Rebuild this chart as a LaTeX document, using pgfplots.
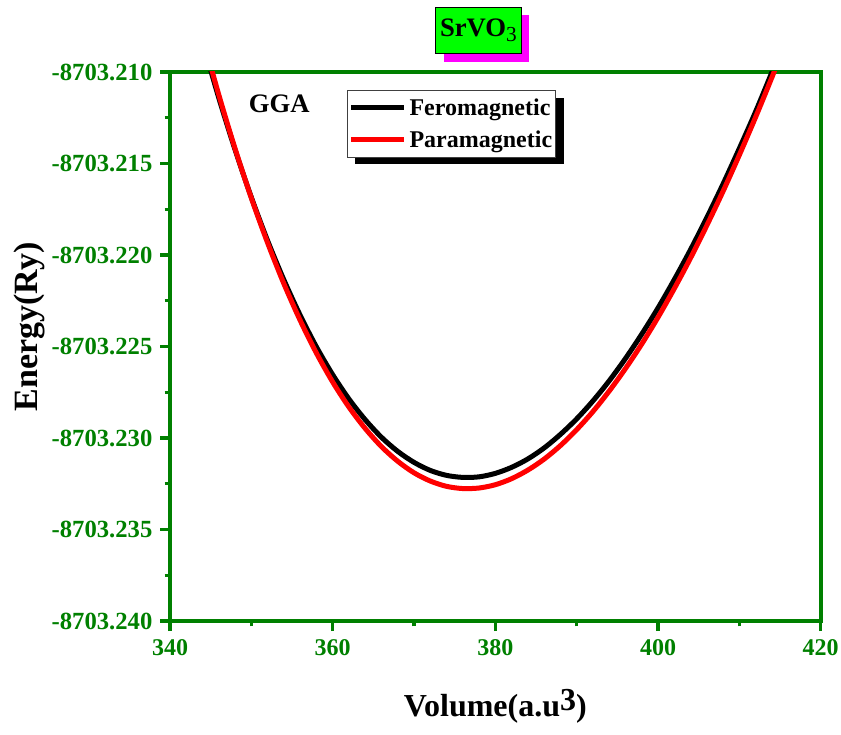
\documentclass[border=0pt]{standalone}
\usepackage{fontspec}
\setmainfont{Liberation Serif}
\usepackage{pgfplots}
\usepackage{pgfplotstable}
\pgfplotsset{compat=1.18}
\usetikzlibrary{shadows}
\definecolor{axgreen}{RGB}{0,128,0}
\definecolor{titlegreen}{RGB}{0,255,0}
\definecolor{shadowmag}{RGB}{255,0,255}
% Energies stored as E + 8703 (Ry), i.e. -0.20835 means -8703.20835 Ry
\pgfplotstableread{
V E
344 -0.20835
346 -0.21142
348 -0.21425
350 -0.21685
352 -0.21922
354 -0.22136
356 -0.22329
358 -0.22502
360 -0.22654
362 -0.22787
364 -0.22900
366 -0.22996
368 -0.23073
370 -0.23133
372 -0.23177
374 -0.23204
376 -0.23215
378 -0.23212
380 -0.23193
382 -0.23160
384 -0.23114
386 -0.23054
388 -0.22980
390 -0.22895
392 -0.22797
394 -0.22687
396 -0.22565
398 -0.22432
400 -0.22289
402 -0.22134
404 -0.21970
406 -0.21795
408 -0.21611
410 -0.21417
412 -0.21216
414 -0.21001
416 -0.20780
}\ferro
\pgfplotstableread{
V E
344 -0.20806
346 -0.21125
348 -0.21419
350 -0.21689
352 -0.21934
354 -0.22157
356 -0.22357
358 -0.22536
360 -0.22694
362 -0.22831
364 -0.22948
366 -0.23047
368 -0.23127
370 -0.23190
372 -0.23235
374 -0.23264
376 -0.23276
378 -0.23273
380 -0.23255
382 -0.23222
384 -0.23175
386 -0.23115
388 -0.23041
390 -0.22954
392 -0.22855
394 -0.22743
396 -0.22620
398 -0.22486
400 -0.22340
402 -0.22183
404 -0.22016
406 -0.21838
408 -0.21651
410 -0.21453
412 -0.21246
414 -0.21029
416 -0.20803
}\para
\begin{document}
\begin{tikzpicture}
\begin{axis}[name=ax,
  scale only axis, width=488pt, height=411.75pt,
  xmin=340, xmax=420, ymin=-0.240, ymax=-0.210,
  xtick={340,360,380,400,420},
  ytick={-0.240,-0.235,-0.230,-0.225,-0.220,-0.215,-0.210},
  yticklabels={-8703.240,-8703.235,-8703.230,-8703.225,-8703.220,-8703.215,-8703.210},
  minor tick num=1,
  tick pos=left, tick align=outside,
  major tick length=7.5pt, minor tick length=4pt,
  axis line style={line width=3pt, draw=axgreen},
  tick style={line width=2.5pt, draw=axgreen},
  xticklabel style={font=\fontsize{18}{21}\selectfont\bfseries, text=axgreen, yshift=-3pt, /pgf/number format/assume math mode=true},
  yticklabel style={font=\fontsize{18.5}{22}\selectfont\bfseries, text=axgreen, xshift=-2.2pt},
  xlabel={Volume(a.u\raisebox{0.45ex}{3})},
  ylabel={Energy(Ry)},
  xlabel style={font=\fontsize{24}{28}\selectfont\bfseries, at={(rel axis cs:0.5,-0.155)}, anchor=center},
  ylabel style={font=\fontsize{25.5}{30}\selectfont\bfseries, at={(rel axis cs:-0.2167,0.536)}, anchor=center},
  clip mode=individual,
  legend style={at={(0.2725,0.967)}, anchor=north west, draw=black!75, line width=0.8pt, fill=white,
    font=\fontsize{18}{21}\selectfont\bfseries,
    inner xsep=0.5pt, inner ysep=4pt, row sep=6pt},
  legend cell align=left,
  legend image code/.code={\draw[#1, line width=3.75pt] (0pt,0pt) -- (40pt,0pt);},
]
\fill[black] (rel axis cs:0.2848,0.9526) rectangle (rel axis cs:0.606,0.8319);
\addplot[black, line width=3.75pt, smooth] table[x=V, y=E] {\ferro};
\addlegendentry{Feromagnetic}
\addplot[red, line width=3.75pt, smooth] table[x=V, y=E] {\para};
\addlegendentry{Paramagnetic}
\node[anchor=base west, font=\fontsize{20}{24}\selectfont\bfseries] at (rel axis cs:0.114,0.9266) {GGA};
\node[fill=titlegreen, draw=black, line width=0.8pt,
  general shadow={fill=shadowmag, shadow xshift=6pt, shadow yshift=-6pt},
  minimum width=64pt, minimum height=35pt, inner sep=2pt,
  font=\fontsize{20}{24}\selectfont\bfseries] at (rel axis cs:0.474,1.0756)
  {SrVO\raisebox{-0.4ex}{\fontsize{16}{16}\selectfont\mdseries 3}};
\end{axis}
\pgfresetboundingbox
\path[use as bounding box] ([shift={(-127.5pt,-84.75pt)}]ax.south west) rectangle ([shift={(15.2pt,54pt)}]ax.north east);
\end{tikzpicture}
\end{document}
